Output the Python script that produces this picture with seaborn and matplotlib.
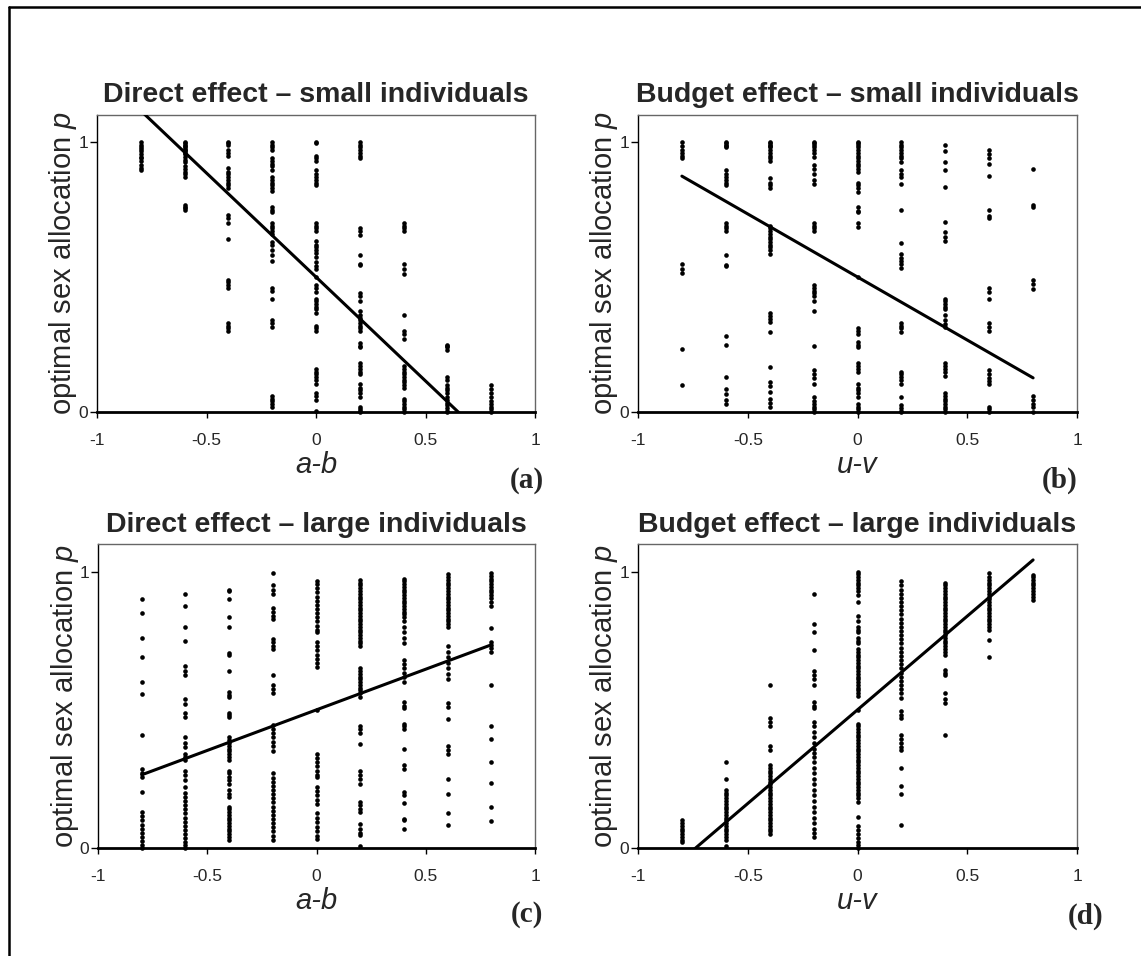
import numpy as np
import pandas as pd
import matplotlib
matplotlib.use("Agg")
import matplotlib.pyplot as plt
from matplotlib.lines import Line2D
import seaborn as sns

# ---- data: p values per x column ----
direct_small = {
    -0.8: [1.0, 0.99, 0.98, 0.975, 0.965, 0.955, 0.945, 0.94, 0.93, 0.915, 0.905, 0.895],
    -0.6: [1.0, 0.995, 0.99, 0.985, 0.98, 0.975, 0.97, 0.965, 0.96, 0.955, 0.945, 0.935, 0.925,
           0.91, 0.9, 0.89, 0.88, 0.87, 0.765, 0.76, 0.755, 0.75],
    -0.4: [1.0, 0.995, 0.99, 0.97, 0.96, 0.95, 0.905, 0.89, 0.88, 0.87, 0.86, 0.85, 0.84, 0.83,
           0.73, 0.72, 0.70, 0.64, 0.49, 0.48, 0.47, 0.46, 0.33, 0.32, 0.31, 0.30],
    -0.2: [1.0, 0.99, 0.98, 0.97, 0.94, 0.93, 0.92, 0.91, 0.895, 0.87, 0.86, 0.85, 0.84, 0.83,
           0.82, 0.76, 0.75, 0.74, 0.70, 0.69, 0.68, 0.67, 0.66, 0.63, 0.62, 0.60, 0.58, 0.56,
           0.46, 0.45, 0.42, 0.34, 0.33, 0.315, 0.06, 0.05, 0.04, 0.03, 0.02],
    0.0: [1.0, 0.995, 0.95, 0.94, 0.93, 0.895, 0.88, 0.87, 0.86, 0.85, 0.84, 0.70, 0.69, 0.68,
          0.67, 0.635, 0.62, 0.61, 0.60, 0.59, 0.575, 0.555, 0.54, 0.53, 0.5, 0.47, 0.46, 0.445,
          0.42, 0.41, 0.40, 0.39, 0.38, 0.365, 0.32, 0.31, 0.30, 0.16, 0.15, 0.14, 0.13, 0.12,
          0.105, 0.07, 0.06, 0.045, 0.005],
    0.2: [1.0, 0.99, 0.98, 0.97, 0.96, 0.95, 0.94, 0.68, 0.67, 0.655, 0.58, 0.55, 0.545, 0.44,
          0.43, 0.41, 0.375, 0.36, 0.35, 0.34, 0.33, 0.32, 0.31, 0.30, 0.255, 0.245, 0.24, 0.18,
          0.17, 0.16, 0.15, 0.14, 0.105, 0.09, 0.08, 0.07, 0.055, 0.02, 0.01, 0.005, 0.0],
    0.4: [0.70, 0.69, 0.68, 0.67, 0.55, 0.53, 0.51, 0.36, 0.30, 0.29, 0.27, 0.17, 0.16, 0.15,
          0.14, 0.13, 0.12, 0.11, 0.10, 0.09, 0.05, 0.04, 0.03, 0.02, 0.01, 0.0],
    0.6: [0.25, 0.245, 0.24, 0.23, 0.13, 0.12, 0.10, 0.09, 0.08, 0.07, 0.055, 0.045, 0.035,
          0.025, 0.015, 0.005, 0.0],
    0.8: [0.1, 0.085, 0.07, 0.055, 0.04, 0.03, 0.02, 0.01, 0.0],
}

budget_small = {
    -0.8: [1.0, 0.985, 0.97, 0.96, 0.95, 0.94, 0.55, 0.53, 0.515, 0.235, 0.10],
    -0.6: [1.0, 0.995, 0.99, 0.985, 0.98, 0.895, 0.88, 0.87, 0.86, 0.85, 0.84, 0.70, 0.69,
           0.68, 0.67, 0.58, 0.545, 0.54, 0.28, 0.25, 0.13, 0.085, 0.065, 0.045, 0.03],
    -0.4: [1.0, 0.995, 0.99, 0.985, 0.98, 0.97, 0.96, 0.95, 0.94, 0.93, 0.865, 0.85, 0.84,
           0.83, 0.69, 0.68, 0.67, 0.66, 0.65, 0.64, 0.63, 0.62, 0.61, 0.60, 0.585, 0.365,
           0.355, 0.345, 0.335, 0.295, 0.165, 0.11, 0.095, 0.075, 0.05, 0.035, 0.02],
    -0.2: [1.0, 0.995, 0.99, 0.98, 0.97, 0.96, 0.945, 0.915, 0.9, 0.88, 0.86, 0.845, 0.70,
           0.69, 0.68, 0.67, 0.47, 0.46, 0.45, 0.44, 0.43, 0.41, 0.375, 0.245, 0.155, 0.14,
           0.125, 0.105, 0.055, 0.04, 0.03, 0.02, 0.01, 0.0],
    0.0: [1.0, 0.995, 0.99, 0.98, 0.97, 0.96, 0.95, 0.94, 0.93, 0.92, 0.91, 0.90, 0.89, 0.85,
          0.84, 0.83, 0.815, 0.76, 0.745, 0.74, 0.70, 0.685, 0.5, 0.31, 0.30, 0.29, 0.26, 0.25,
          0.24, 0.18, 0.17, 0.16, 0.15, 0.105, 0.09, 0.08, 0.07, 0.055, 0.03, 0.02, 0.01, 0.0],
    0.2: [1.0, 0.99, 0.98, 0.97, 0.96, 0.95, 0.94, 0.925, 0.895, 0.88, 0.87, 0.845, 0.75,
          0.625, 0.585, 0.57, 0.56, 0.55, 0.535, 0.33, 0.32, 0.31, 0.295, 0.15, 0.14, 0.13,
          0.12, 0.105, 0.055, 0.025, 0.015, 0.005, 0.0],
    0.4: [0.99, 0.965, 0.925, 0.895, 0.835, 0.705, 0.665, 0.65, 0.635, 0.42, 0.41, 0.40,
          0.39, 0.38, 0.36, 0.34, 0.325, 0.315, 0.18, 0.17, 0.16, 0.15, 0.135, 0.07, 0.06,
          0.05, 0.04, 0.03, 0.02, 0.01, 0.0],
    0.6: [0.97, 0.955, 0.94, 0.92, 0.875, 0.75, 0.725, 0.72, 0.46, 0.445, 0.42, 0.33, 0.315,
          0.30, 0.155, 0.14, 0.125, 0.115, 0.105, 0.02, 0.01, 0.0],
    0.8: [0.9, 0.765, 0.76, 0.49, 0.475, 0.455, 0.06, 0.045, 0.03, 0.02, 0.0],
}

direct_large = {
    -0.8: [0.90, 0.85, 0.76, 0.69, 0.60, 0.557, 0.41, 0.287, 0.27, 0.257, 0.203, 0.13, 0.115,
           0.10, 0.085, 0.07, 0.055, 0.04, 0.025, 0.01, 0.0],
    -0.6: [0.92, 0.875, 0.80, 0.75, 0.66, 0.64, 0.625, 0.54, 0.52, 0.487, 0.475, 0.40, 0.38,
           0.365, 0.34, 0.33, 0.32, 0.28, 0.265, 0.245, 0.22, 0.2, 0.185, 0.17, 0.155, 0.14,
           0.125, 0.11, 0.095, 0.08, 0.065, 0.05, 0.035, 0.02, 0.01, 0.0],
    -0.4: [0.935, 0.93, 0.90, 0.835, 0.80, 0.705, 0.70, 0.64, 0.565, 0.555, 0.547, 0.49, 0.48,
           0.475, 0.40, 0.39, 0.38, 0.37, 0.36, 0.35, 0.34, 0.33, 0.32, 0.28, 0.27, 0.257,
           0.245, 0.23, 0.21, 0.197, 0.185, 0.15, 0.14, 0.13, 0.12, 0.11, 0.10, 0.09, 0.08,
           0.07, 0.06, 0.05, 0.04, 0.03],
    -0.2: [0.995, 0.95, 0.935, 0.92, 0.867, 0.855, 0.84, 0.83, 0.758, 0.745, 0.73, 0.72,
           0.625, 0.59, 0.575, 0.56, 0.445, 0.43, 0.415, 0.40, 0.385, 0.37, 0.35, 0.27, 0.255,
           0.24, 0.225, 0.21, 0.195, 0.18, 0.165, 0.15, 0.135, 0.12, 0.105, 0.09, 0.075,
           0.06, 0.045, 0.03],
    0.0: [0.965, 0.955, 0.94, 0.925, 0.91, 0.895, 0.88, 0.865, 0.85, 0.835, 0.82, 0.805,
          0.79, 0.78, 0.745, 0.73, 0.715, 0.70, 0.685, 0.67, 0.655, 0.5, 0.34, 0.325, 0.31,
          0.295, 0.28, 0.265, 0.257, 0.22, 0.205, 0.19, 0.175, 0.16, 0.125, 0.11, 0.095,
          0.076, 0.06, 0.045, 0.034],
    0.2: [0.97, 0.96, 0.95, 0.94, 0.93, 0.92, 0.91, 0.90, 0.89, 0.88, 0.87, 0.86, 0.85, 0.84,
          0.83, 0.82, 0.81, 0.80, 0.79, 0.78, 0.77, 0.76, 0.75, 0.74, 0.73, 0.65, 0.64, 0.63,
          0.62, 0.61, 0.60, 0.59, 0.58, 0.57, 0.56, 0.547, 0.44, 0.43, 0.415, 0.378, 0.28,
          0.265, 0.25, 0.233, 0.167, 0.155, 0.14, 0.13, 0.088, 0.07, 0.055, 0.046, 0.006],
    0.4: [0.975, 0.965, 0.955, 0.945, 0.935, 0.925, 0.915, 0.905, 0.895, 0.885, 0.875,
          0.865, 0.855, 0.845, 0.835, 0.82, 0.80, 0.78, 0.76, 0.74, 0.68, 0.665, 0.65, 0.635,
          0.62, 0.60, 0.53, 0.515, 0.505, 0.45, 0.44, 0.432, 0.36, 0.30, 0.287, 0.203, 0.19,
          0.164, 0.106, 0.1, 0.07],
    0.6: [0.99, 0.98, 0.97, 0.96, 0.95, 0.94, 0.93, 0.92, 0.91, 0.90, 0.89, 0.88, 0.87, 0.86,
          0.85, 0.84, 0.83, 0.82, 0.81, 0.80, 0.73, 0.71, 0.69, 0.67, 0.65, 0.63, 0.61, 0.523,
          0.51, 0.465, 0.37, 0.355, 0.34, 0.25, 0.197, 0.127, 0.082],
    0.8: [0.995, 0.985, 0.975, 0.965, 0.955, 0.945, 0.935, 0.925, 0.915, 0.905, 0.89, 0.875,
          0.795, 0.746, 0.735, 0.725, 0.71, 0.59, 0.442, 0.396, 0.31, 0.237, 0.149, 0.098],
}

budget_large = {
    -0.8: [0.103, 0.09, 0.08, 0.07, 0.06, 0.05, 0.04, 0.03, 0.02],
    -0.6: [0.31, 0.248, 0.21, 0.2, 0.19, 0.18, 0.17, 0.16, 0.15, 0.14, 0.13, 0.12, 0.11, 0.10,
           0.09, 0.08, 0.07, 0.06, 0.05, 0.04, 0.03, 0.007],
    -0.4: [0.59, 0.47, 0.455, 0.44, 0.368, 0.356, 0.30, 0.29, 0.28, 0.27, 0.26, 0.25, 0.24,
           0.23, 0.22, 0.21, 0.20, 0.19, 0.18, 0.17, 0.16, 0.15, 0.14, 0.13, 0.12, 0.11, 0.10,
           0.09, 0.08, 0.07, 0.06, 0.05],
    -0.2: [0.92, 0.81, 0.78, 0.715, 0.64, 0.625, 0.61, 0.59, 0.527, 0.515, 0.507, 0.456,
           0.44, 0.42, 0.40, 0.38, 0.36, 0.345, 0.33, 0.31, 0.29, 0.27, 0.25, 0.23, 0.21,
           0.19, 0.17, 0.15, 0.13, 0.11, 0.09, 0.07, 0.055, 0.04],
    0.0: [1.0, 0.99, 0.98, 0.97, 0.96, 0.95, 0.94, 0.93, 0.915, 0.89, 0.84, 0.82, 0.80, 0.79,
          0.78, 0.76, 0.75, 0.74, 0.72, 0.71, 0.70, 0.69, 0.68, 0.67, 0.66, 0.65, 0.64, 0.63,
          0.62, 0.61, 0.60, 0.59, 0.58, 0.57, 0.56, 0.55, 0.5, 0.45, 0.44, 0.43, 0.42, 0.41,
          0.40, 0.39, 0.38, 0.37, 0.36, 0.35, 0.34, 0.33, 0.32, 0.31, 0.30, 0.29, 0.28, 0.27,
          0.26, 0.25, 0.24, 0.23, 0.22, 0.21, 0.20, 0.19, 0.18, 0.165, 0.113, 0.08, 0.065,
          0.05, 0.035, 0.02, 0.01, 0.0],
    0.2: [0.965, 0.95, 0.935, 0.92, 0.905, 0.89, 0.875, 0.86, 0.845, 0.83, 0.815, 0.80,
          0.785, 0.77, 0.755, 0.74, 0.725, 0.71, 0.695, 0.68, 0.665, 0.65, 0.635, 0.62, 0.605,
          0.59, 0.575, 0.56, 0.543, 0.495, 0.483, 0.47, 0.41, 0.395, 0.38, 0.366, 0.356,
          0.288, 0.224, 0.194, 0.083],
    0.4: [0.958, 0.95, 0.94, 0.93, 0.92, 0.91, 0.90, 0.89, 0.88, 0.87, 0.86, 0.85, 0.84, 0.83,
          0.82, 0.81, 0.80, 0.79, 0.78, 0.77, 0.76, 0.75, 0.74, 0.73, 0.72, 0.71, 0.70, 0.645,
          0.635, 0.627, 0.56, 0.54, 0.525, 0.41],
    0.6: [0.996, 0.98, 0.97, 0.96, 0.95, 0.94, 0.93, 0.92, 0.91, 0.90, 0.89, 0.88, 0.87, 0.86,
          0.85, 0.84, 0.83, 0.82, 0.81, 0.80, 0.79, 0.753, 0.69],
    0.8: [0.988, 0.98, 0.97, 0.96, 0.95, 0.94, 0.93, 0.92, 0.91, 0.898],
}

# fitted lines: (intercept, slope)
fit_lines = [(0.5, -0.77), (0.5, -0.467), (0.5, 0.294), (0.5, 0.678)]
fit_x = [-0.8, 0.8]

titles = ["Direct effect \u2013 small individuals", "Budget effect \u2013 small individuals",
          "Direct effect \u2013 large individuals", "Budget effect \u2013 large individuals"]
xlabels = ["a-b", "u-v", "a-b", "u-v"]
panel_tags = ["(a)", "(b)", "(c)", "(d)"]
xtick_vals = [-1, -0.5, 0, 0.5, 1]
xtick_text = ["-1", "-0.5", "0", "0.5", "1"]
ytick_vals = [0, 1]
ytick_text = ["0", "1"]


def to_frame(d):
    rows = [(x, y) for x, ys in d.items() for y in ys]
    return pd.DataFrame(rows, columns=["x", "p"])


sns.set_style("white")
plt.rcParams["font.family"] = ["Liberation Sans", "DejaVu Sans"]
plt.rcParams["mathtext.fontset"] = "custom"
plt.rcParams["mathtext.it"] = "Liberation Sans:italic"
plt.rcParams["mathtext.rm"] = "Liberation Sans"

W, H = 1141, 956
fig = plt.figure(figsize=(W / 100, H / 100), dpi=100)
fig.patch.set_facecolor("white")

# pixel boxes (left, top, right, bottom)
boxes = [(97, 115, 535, 412), (638, 115, 1077, 412),
         (98, 544, 535, 848), (638, 544, 1077, 848)]
tag_pos = [(527, 480), (1060, 480), (527, 914), (1086, 916)]

datasets = [direct_small, budget_small, direct_large, budget_large]

for i, d in enumerate(datasets):
    l, t, r, b = boxes[i]
    ax = fig.add_axes([l / W, 1 - b / H, (r - l) / W, (b - t) / H])
    df = to_frame(d)
    sns.scatterplot(data=df, x="x", y="p", ax=ax, color="black", s=11,
                    linewidth=0, clip_on=False, legend=False, zorder=3)
    b0, b1 = fit_lines[i]
    line_df = pd.DataFrame({"x": fit_x, "p": [b0 + b1 * v for v in fit_x]})
    sns.lineplot(data=line_df, x="x", y="p", ax=ax, color="black", lw=2.2, zorder=4)

    ax.set_xlim(-1, 1)
    ax.set_ylim(0, 1.1)
    ax.set_xticks(xtick_vals)
    ax.set_xticklabels(xtick_text)
    ax.set_yticks(ytick_vals)
    ax.set_yticklabels(ytick_text)
    ax.tick_params(axis="x", direction="out", length=4, width=1, pad=11,
                   labelsize=12.5, bottom=True, color="black")
    ax.tick_params(axis="y", direction="out", length=5, width=1, pad=1.5,
                   labelsize=12.5, left=True, color="black")

    ax.spines["bottom"].set_linewidth(2)
    ax.spines["bottom"].set_color("black")
    ax.spines["left"].set_linewidth(1)
    ax.spines["left"].set_color("black")
    for s in ["top", "right"]:
        ax.spines[s].set_linewidth(1)
        ax.spines[s].set_color("#666666")

    ax.set_title(titles[i], fontsize=20.5, fontweight="bold", pad=9)
    ax.set_xlabel(xlabels[i], fontsize=21, fontstyle="italic")
    ax.xaxis.set_label_coords(0.5, -39 / (b - t))
    ax.set_ylabel("optimal sex allocation $p$", fontsize=21)
    ax.yaxis.set_label_coords(-0.04, 0.5)

    tx, ty = tag_pos[i]
    fig.text(tx / W, 1 - ty / H, panel_tags[i], ha="center", va="center",
             fontsize=21, fontweight="bold", family=["Liberation Serif", "DejaVu Serif"])

# outer frame (only left and top edges fall inside the image)
fig.add_artist(Line2D([9 / W, 9 / W], [0, 1 - 7 / H], transform=fig.transFigure,
                      color="black", lw=1.8))
fig.add_artist(Line2D([9 / W, 1], [1 - 7 / H, 1 - 7 / H], transform=fig.transFigure,
                      color="black", lw=1.8))

fig.savefig("out.png", dpi=100, facecolor="white")
